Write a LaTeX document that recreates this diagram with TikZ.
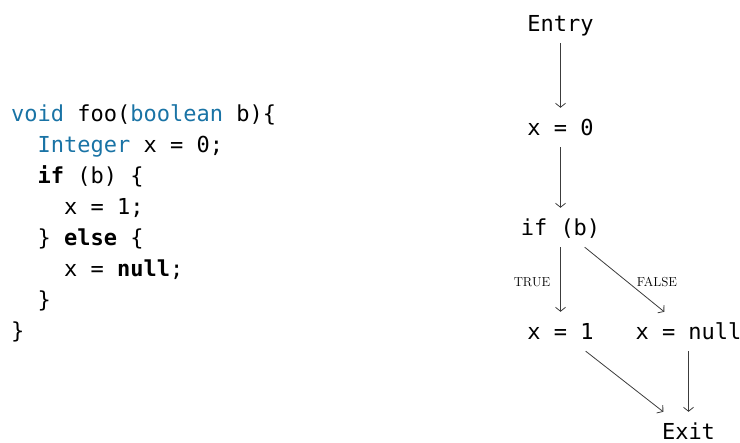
\documentclass[tikz,border=0pt]{standalone}
\usepackage{fontspec}
\newfontfamily\codefont{DejaVu Sans Mono}
\usetikzlibrary{arrows.meta}
\definecolor{kwblue}{RGB}{25,115,165}
\definecolor{edgegray}{RGB}{60,60,60}
\tikzset{
  codeline/.style={anchor=base west, inner sep=0pt, font=\codefont\fontsize{22}{26}\selectfont},
  cfgnode/.style={anchor=base, inner xsep=0pt, inner ysep=11pt, text height=17pt, text depth=0pt, font=\codefont\fontsize{22}{26}\selectfont},
  cfgedge/.style={draw=edgegray, line width=0.8pt, -{Straight Barb[length=4pt,width=10pt]}},
  edgelabel/.style={font=\fontsize{13}{13}\selectfont, inner sep=0pt}
}
\begin{document}
\begin{tikzpicture}[x=1pt,y=-1pt]
\useasboundingbox (0,0) rectangle (740,443);
% code
\node[codeline] (c1) at (11,122) {\textcolor{kwblue}{void} foo(\textcolor{kwblue}{boolean} b)\{};
\node[codeline] (c2) at (37.5,153) {\textcolor{kwblue}{Integer} x = 0;};
\node[codeline] (c3) at (37.5,184) {\textbf{if} (b) \{};
\node[codeline] (c4) at (64,215) {x = 1;};
\node[codeline] (c5) at (37.5,246) {\} \textbf{else} \{};
\node[codeline] (c6) at (64,277) {x = \textbf{null};};
\node[codeline] (c7) at (37.5,308) {\}};
\node[codeline] (c8) at (11,339) {\}};
% CFG
\node[cfgnode] (entry) at (560.5,32) {Entry};
\node[cfgnode] (x0) at (560.5,136) {x = 0};
\node[cfgnode] (ifb) at (560.5,236) {if (b)};
\node[cfgnode] (x1) at (560.5,340) {x = 1};
\node[cfgnode] (xnull) at (688.5,340) {x = null};
\node[cfgnode] (exit) at (688.5,440) {Exit};
\draw[cfgedge] (entry) -- (x0);
\draw[cfgedge] (x0) -- (ifb);
\draw[cfgedge] (ifb) -- (x1);
\draw[cfgedge] (ifb) -- (xnull);
\draw[cfgedge] (x1) -- (exit);
\draw[cfgedge] (xnull) -- (exit);
\node[edgelabel] (ltrue) at (532,282) {TRUE};
\node[edgelabel] (lfalse) at (657,282) {FALSE};
\end{tikzpicture}
\end{document}
